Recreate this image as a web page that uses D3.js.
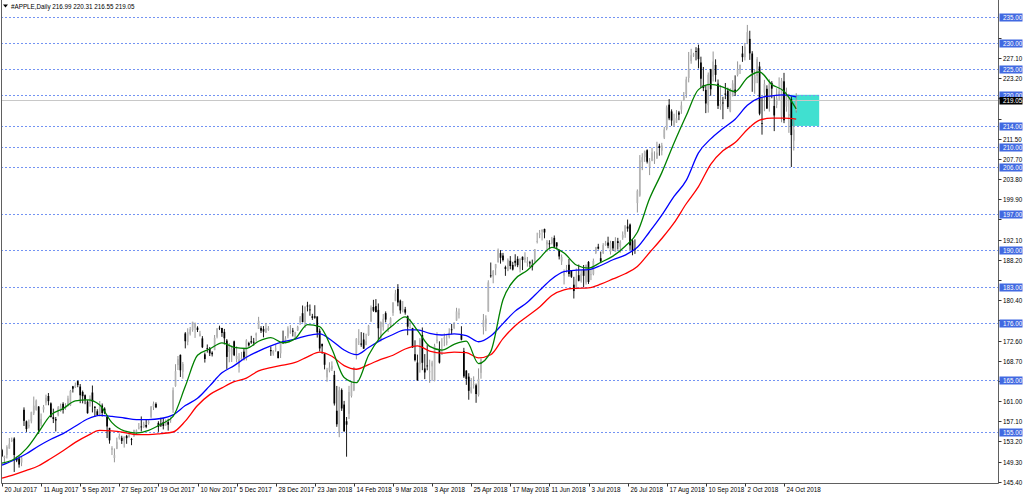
<!DOCTYPE html>
<html><head><meta charset="utf-8">
<script src="https://cdn.jsdelivr.net/npm/d3@7"></script>
<style>body{margin:0;background:#fff}svg{display:block}text{font-family:"Liberation Sans",Arial,sans-serif}</style>
</head><body><svg id="c" width="1024" height="496"></svg>
<script>
// ---- DATA (daily bars, 20 Jul 2017 .. 31 Oct 2018) ----
const open=[
151.50,149.99,150.58,151.80,153.35,153.75,149.89,149.90,
149.10,159.28,157.05,156.07,157.06,158.60,159.26,159.90,156.60,159.32,160.66,161.94,160.52,157.86,157.50,158.23,159.07,160.43,159.65,160.14,160.10,163.80,163.64,
164.80,163.75,162.71,162.09,160.86,160.50,162.61,159.87,158.99,158.47,160.11,159.51,157.90,155.80,151.54,149.99,151.78,153.80,153.89,153.21,
154.26,154.01,153.63,154.18,154.97,155.81,156.06,155.97,156.35,156.73,157.90,159.78,160.42,156.75,156.61,156.89,156.29,156.91,157.23,159.29,163.89,167.90,
169.87,166.60,174.00,172.37,173.91,174.66,175.11,175.11,173.50,173.04,169.97,171.18,171.04,170.29,170.78,173.36,175.10,175.05,174.30,172.63,170.43,
169.95,172.48,169.06,167.50,169.03,170.49,169.20,172.15,172.50,172.40,173.63,174.88,175.03,174.87,174.17,174.68,170.80,170.10,171.00,170.52,
170.16,172.53,172.54,173.44,174.35,174.55,173.16,174.59,176.18,177.90,176.15,179.37,178.61,177.30,177.30,177.25,174.51,172.00,170.16,165.53,166.87,
167.17,166.00,159.10,154.83,163.09,160.29,157.07,158.50,161.95,163.04,169.79,172.36,172.05,172.83,171.80,173.67,176.35,179.10,179.26,
178.54,172.80,175.21,177.91,174.94,175.48,177.96,180.29,182.59,180.32,178.50,178.65,177.32,175.24,175.04,170.00,168.39,168.07,173.68,167.25,167.81,
166.64,167.64,164.88,172.58,170.97,169.88,173.00,172.23,173.41,174.78,175.03,176.49,177.81,173.76,170.60,166.83,165.67,162.62,164.12,164.00,162.13,
166.41,175.23,175.88,178.25,185.18,184.99,186.55,187.74,189.49,189.01,186.78,186.07,188.00,187.19,188.00,188.38,186.35,188.77,188.23,187.60,187.72,187.22,
187.99,191.64,193.07,193.63,194.14,191.17,191.35,191.39,192.42,191.55,190.03,187.88,185.14,186.35,187.25,186.12,183.40,182.99,185.23,184.10,186.29,
183.82,187.79,185.26,185.42,189.50,190.71,188.50,189.53,191.08,191.52,189.75,191.78,189.69,191.78,190.68,192.45,193.06,194.61,194.99,191.90,190.30,
199.13,200.58,207.03,208.00,209.32,206.05,207.28,207.36,207.70,210.16,209.22,211.75,213.44,218.10,216.80,214.10,214.65,216.60,217.15,219.01,220.15,223.25,226.51,
227.63,228.41,228.99,226.23,221.85,220.95,218.01,224.94,223.52,225.75,222.15,217.79,218.50,220.24,220.78,216.82,219.75,221.00,223.82,224.79,
227.95,227.25,230.05,230.78,227.96,222.21,223.64,225.46,214.52,220.42,221.16,218.93,222.30,217.86,218.06,219.79,215.83,222.60,217.71,215.90,219.19,211.15,216.99];
const high=[
151.74,150.44,152.44,153.84,153.93,153.99,150.23,150.33,
150.22,159.75,157.21,157.40,158.92,161.83,161.27,160.00,158.57,160.21,162.20,162.51,160.71,159.50,157.89,160.00,160.47,160.74,160.56,162.00,163.12,163.89,164.52,
164.94,164.25,162.99,162.24,161.15,162.05,163.96,159.96,159.40,160.97,160.50,159.77,158.26,155.80,152.27,151.83,153.92,154.72,154.28,154.13,
154.45,155.09,153.86,155.44,155.49,156.73,158.00,156.98,157.37,157.28,160.00,160.87,160.71,157.08,157.75,157.69,157.42,157.55,157.83,163.60,168.07,169.65,
169.94,168.50,174.26,174.99,175.25,176.24,176.10,175.38,174.50,173.48,170.32,171.87,171.39,170.56,173.70,175.00,175.50,175.08,174.87,172.92,172.14,
171.67,172.62,171.52,170.20,170.44,171.00,172.89,172.39,173.54,173.13,174.17,177.20,175.39,175.42,176.02,175.42,171.47,170.78,171.85,170.59,
172.30,174.55,173.47,175.37,175.61,175.06,174.30,175.49,177.36,179.39,179.25,180.10,179.58,177.78,179.44,177.30,174.95,172.00,170.16,167.37,168.44,
168.62,166.80,163.88,163.72,163.40,161.00,157.89,163.89,164.75,167.54,173.09,174.82,174.26,174.12,173.95,175.65,179.39,180.48,180.62,
179.78,176.30,177.74,178.25,175.85,177.12,180.00,182.39,183.50,180.52,180.24,179.12,177.47,176.80,175.09,172.68,169.92,173.10,175.15,170.02,171.75,
168.94,168.75,172.01,174.23,172.48,173.09,174.00,173.92,175.00,175.84,176.19,178.94,178.82,175.39,171.22,166.92,166.33,165.42,165.73,164.33,167.26,
169.20,177.75,177.50,184.25,187.67,186.22,187.40,190.37,190.06,189.53,187.07,188.46,188.91,187.81,189.27,188.88,188.50,188.84,189.65,188.75,188.00,188.23,
190.26,193.42,193.94,194.08,194.20,192.00,191.97,192.61,192.88,191.57,190.16,189.22,186.33,187.20,188.35,186.15,184.92,186.53,187.28,186.21,187.19,
187.30,187.95,186.41,188.43,190.68,191.28,189.78,191.41,191.84,192.65,191.87,191.80,192.55,192.43,191.96,193.66,194.85,195.96,195.19,192.20,192.14,
201.76,208.38,208.74,209.25,209.50,207.81,209.78,209.10,210.95,210.56,210.74,213.81,217.95,219.18,217.19,216.36,217.05,216.90,218.74,220.54,223.49,228.26,228.87,
228.10,229.18,229.67,227.35,225.37,221.85,224.30,225.00,228.35,226.84,222.95,221.85,219.62,222.28,221.36,221.26,222.82,223.75,226.44,225.84,
229.42,230.00,233.47,232.35,228.41,224.80,227.27,226.35,219.50,222.88,221.83,222.99,222.64,219.74,221.26,223.36,223.25,224.23,221.38,220.19,219.69,215.18,220.31];
const low=[
150.19,148.88,149.90,151.80,153.06,147.30,149.19,148.13,
148.41,156.16,155.02,155.69,156.67,158.27,159.11,154.63,156.07,158.75,160.14,160.15,157.84,156.72,155.11,158.02,158.88,158.55,159.27,159.93,160.00,162.61,163.48,
163.63,160.56,160.52,160.36,158.53,159.89,158.77,157.91,158.09,158.00,157.99,158.44,153.83,152.75,150.56,149.16,151.69,153.54,152.70,152.00,
152.72,153.91,152.46,154.05,154.56,155.49,155.10,155.75,155.73,156.41,157.65,159.23,159.60,155.02,155.96,155.50,156.20,155.27,156.78,158.70,163.72,166.94,
165.61,165.28,171.12,171.72,173.60,174.33,173.14,174.27,173.40,171.18,168.38,170.30,169.64,169.56,170.78,173.05,174.65,173.34,171.86,167.16,168.44,
168.50,169.63,168.40,166.46,168.91,168.82,168.79,171.46,172.00,171.65,172.46,174.86,174.09,173.25,174.10,174.50,169.68,169.71,170.48,169.22,
169.26,171.96,172.08,173.05,173.93,173.41,173.00,174.49,175.65,176.14,175.07,178.25,177.41,176.60,176.82,173.20,170.53,170.06,167.07,164.70,166.50,
166.76,160.10,156.00,154.00,159.07,155.03,150.24,157.51,161.65,162.88,169.00,171.77,171.42,171.01,171.71,173.54,176.21,178.16,178.05,
172.66,172.45,174.52,176.13,174.27,175.07,177.39,180.21,179.24,177.81,178.07,177.62,173.66,174.94,171.26,168.60,164.94,166.44,166.92,165.19,166.90,
164.47,164.88,164.77,172.08,168.20,169.85,171.53,171.70,173.04,173.85,174.83,176.41,176.88,172.66,165.43,164.09,161.22,162.41,163.37,160.63,161.84,
165.27,173.80,174.44,178.17,184.75,183.67,185.22,187.65,187.45,187.86,185.10,186.00,186.36,186.13,186.91,186.78,185.76,186.21,187.65,186.87,186.78,186.14,
187.75,191.35,192.36,191.92,192.34,189.77,190.21,191.15,190.44,190.22,188.26,187.20,183.45,185.73,184.94,184.70,180.73,182.54,184.03,183.80,182.91,
183.42,183.54,184.28,185.20,189.30,190.18,187.61,189.31,190.90,190.42,189.20,189.93,189.69,190.17,189.56,192.05,192.43,193.61,190.10,189.07,189.34,
197.31,200.35,205.48,207.07,206.76,204.52,207.20,206.67,207.70,208.26,208.33,211.47,213.16,215.11,214.03,213.84,214.60,215.11,216.33,218.92,219.41,222.40,226.00,
227.30,226.63,225.10,221.30,220.71,216.47,216.56,219.84,222.57,222.52,217.27,217.12,215.30,219.15,217.29,216.63,219.70,219.76,223.54,224.02,
226.35,226.63,229.78,226.73,220.58,220.20,222.25,216.05,212.32,216.84,217.27,216.76,219.34,213.00,217.43,218.94,214.70,214.54,216.75,212.67,206.09,209.27,216.55];
const close=[
150.34,150.27,152.09,152.74,153.46,150.56,149.50,148.73,
150.05,157.14,155.57,156.39,158.81,160.08,161.06,155.32,157.48,159.85,161.60,160.95,157.86,157.50,157.21,159.78,159.98,159.27,159.86,161.47,162.91,163.35,164.00,
164.05,162.08,161.91,161.26,158.63,161.50,160.86,159.65,158.28,159.88,158.67,158.73,156.07,153.39,151.89,150.55,153.14,154.23,153.28,154.12,
153.81,154.48,153.48,155.39,155.30,155.84,155.90,156.55,156.00,156.99,159.88,160.47,159.76,155.98,156.25,156.17,157.10,156.41,157.41,163.05,166.72,169.04,
166.89,168.11,172.50,174.25,174.81,176.24,175.88,174.67,173.97,171.34,169.08,171.10,170.15,169.98,173.14,174.96,174.97,174.09,173.07,169.48,171.85,
171.05,169.80,169.64,169.01,169.32,169.37,172.67,171.70,172.27,172.22,173.97,176.42,174.54,174.35,175.01,175.01,170.57,170.60,171.08,169.23,
172.26,172.23,173.03,175.00,174.35,174.33,174.29,175.28,177.09,176.19,179.10,179.26,178.46,177.00,177.04,174.22,171.11,171.51,167.96,166.97,167.43,
167.78,160.50,156.49,163.03,159.54,155.15,156.41,162.71,164.34,167.37,172.99,172.43,171.85,171.07,172.50,175.50,178.97,178.39,178.12,
175.00,176.21,176.82,176.67,175.03,176.94,179.98,181.72,179.97,178.44,178.65,178.02,175.30,175.24,171.27,168.85,164.94,172.77,168.34,166.48,167.78,
166.68,168.39,171.61,172.80,168.38,170.05,173.25,172.44,174.14,174.73,175.82,178.24,177.84,172.80,165.72,165.24,162.94,163.65,164.22,162.32,165.26,
169.10,176.57,176.89,183.83,185.16,186.05,187.36,190.04,188.59,188.15,186.44,188.18,186.99,186.31,187.63,187.16,188.36,188.15,188.58,187.90,187.50,186.87,
190.24,191.83,193.31,193.98,193.46,191.70,191.23,192.28,190.70,190.80,188.84,188.74,185.69,186.50,185.46,184.92,182.17,184.43,184.16,185.50,185.11,
187.18,183.92,185.40,187.97,190.58,190.35,187.88,191.03,191.33,190.91,191.45,190.40,191.88,191.44,191.61,193.00,194.82,194.21,190.98,189.91,190.29,
201.50,207.39,207.99,209.07,207.11,207.25,208.88,207.53,208.87,209.75,210.24,213.32,217.58,215.46,215.04,215.05,215.49,216.16,217.94,219.70,222.98,225.03,227.63,
227.75,228.36,226.87,223.10,221.30,218.33,223.85,221.07,226.41,223.84,217.88,218.24,218.37,220.03,217.66,220.79,222.19,220.42,224.95,225.74,
227.26,229.28,232.07,227.99,224.29,223.77,226.87,216.36,214.45,222.11,217.36,222.15,221.19,216.02,219.31,220.65,222.73,215.09,219.80,216.30,212.24,213.30,219.05];

const maIndex=[0,5,10,15,20,25,30,35,40,45,50,55,60,65,70,75,80,85,90,95,100,105,110,115,120,125,130,135,140,145,150,155,160,165,170,175,180,185,190,195,200,205,210,215,220,225,230,235,240,245,250,255,260,265,270,275,280,285,290,295,300,305,310,315,320,325];
const maGreen=[149.0,149.8,151.8,155.0,158.3,159.5,161.0,161.2,160.2,156.8,155.2,154.8,155.3,156.5,158.0,163.8,169.8,171.0,172.2,171.3,171.1,172.5,173.2,172.2,173.0,175.7,175.3,171.0,165.5,164.5,169.8,173.4,175.6,177.2,174.6,171.5,170.8,171.9,172.5,168.2,170.5,180.5,184.5,186.2,188.5,190.6,189.5,187.2,186.6,187.7,188.9,190.8,193.5,200.0,205.0,210.7,216.0,221.0,222.0,221.5,220.6,223.3,224.4,222.0,220.7,217.3];
const maBlue=[148.6,149.6,150.8,152.3,153.6,154.7,156.1,157.5,158.2,158.0,157.7,157.4,157.4,157.6,158.3,160.1,161.5,163.9,166.4,167.8,169.4,170.6,171.6,172.4,172.9,173.6,173.9,172.6,170.8,169.9,171.3,172.7,173.8,174.7,174.7,174.0,173.7,173.9,173.6,172.4,173.5,175.9,178.3,180.0,182.3,184.5,185.9,186.2,186.3,187.1,188.2,189.1,190.6,193.6,196.8,200.4,203.5,208.8,211.5,213.5,215.3,218.0,219.4,219.8,220.0,219.6];
const maRed=[146.1,146.8,147.6,148.5,149.9,151.4,153.0,154.3,155.3,155.2,154.9,154.5,154.5,154.7,155.0,157.1,160.1,162.2,163.5,164.7,165.4,166.8,167.4,167.9,168.4,169.5,170.4,169.6,167.8,167.1,168.0,169.0,169.8,171.0,171.6,170.6,170.2,170.4,170.3,169.3,169.9,173.0,175.5,177.3,179.1,181.3,182.4,182.7,182.8,183.5,184.5,185.5,186.9,189.6,192.3,195.3,199.0,202.3,206.6,209.2,210.8,213.3,215.1,215.5,215.5,215.3];

const levels=[235,230,225,220,214,210,206,197,190,183,176,165,155];
const priceTicks=["231.00","227.10","223.20","219.30","215.40","211.50","207.70","203.80","199.90","196.00","192.10","188.20","184.30","180.40","176.50","172.60","168.70","164.80","161.00","157.10","153.20","149.30","145.40"];
const dateTicks=["20 Jul 2017","11 Aug 2017","5 Sep 2017","27 Sep 2017","19 Oct 2017","10 Nov 2017","5 Dec 2017","28 Dec 2017","23 Jan 2018","14 Feb 2018","9 Mar 2018","3 Apr 2018","25 Apr 2018","17 May 2018","11 Jun 2018","3 Jul 2018","26 Jul 2018","17 Aug 2018","10 Sep 2018","2 Oct 2018","24 Oct 2018"];
const dateTickIndex=[0,16,32,48,64,80,96,112,128,144,160,176,192,208,224,240,256,272,288,304,320];
const symbol="#APPLE,Daily";
const lastPrice=219.05;
const zoneBars=[322.6,334.4];
const zonePrices=[220,214];

// ---- DRAW ----
const svg=d3.select("#c");
const x=d3.scaleLinear().domain([0,320]).range([2,784]);
const y=d3.scaleLinear().domain([145.4,235]).range([481.8,17]);
const axisX=998.5, axisY=483.5;

svg.append("defs").append("clipPath").attr("id","clip").append("rect")
  .attr("x",1).attr("y",0).attr("width",axisX-1).attr("height",axisY);
const plot=svg.append("g").attr("clip-path","url(#clip)");

// zone rectangle
plot.append("rect").attr("x",x(zoneBars[0])).attr("width",x(zoneBars[1])-x(zoneBars[0]))
  .attr("y",y(zonePrices[0])).attr("height",y(zonePrices[1])-y(zonePrices[0]))
  .attr("fill","#40e0d0");

// level lines
plot.selectAll("line.lvl").data(levels).join("line").attr("class","lvl")
  .attr("x1",1).attr("x2",axisX).attr("y1",d=>Math.round(y(d))+0.5).attr("y2",d=>Math.round(y(d))+0.5)
  .attr("stroke","#7393f3").attr("stroke-width",1).attr("stroke-dasharray","2,2");

// last price line
plot.append("line").attr("x1",1).attr("x2",axisX)
  .attr("y1",Math.round(y(lastPrice))+0.5).attr("y2",Math.round(y(lastPrice))+0.5)
  .attr("stroke","#c8c8c8").attr("stroke-width",1);

// candles
const idx=d3.range(close.length);
const cg=plot.append("g");
cg.selectAll("line.w").data(idx).join("line").attr("class","w")
  .attr("x1",i=>x(i)).attr("x2",i=>x(i)).attr("y1",i=>y(high[i])).attr("y2",i=>y(low[i]))
  .attr("stroke",i=>close[i]>=open[i]?"#8a8a8a":"#000").attr("stroke-width",0.9);
cg.selectAll("rect.b").data(idx).join("rect").attr("class","b")
  .attr("x",i=>x(i)-0.85).attr("width",1.7)
  .attr("y",i=>y(Math.max(open[i],close[i])))
  .attr("height",i=>Math.max(0.8,Math.abs(y(open[i])-y(close[i]))))
  .attr("fill",i=>close[i]>=open[i]?"#b4b4b4":"#000");

// moving averages
const line=d3.line().x(d=>x(d[0])).y(d=>y(d[1])).curve(d3.curveMonotoneX);
[[maRed,"#ff0000"],[maBlue,"#0000ff"],[maGreen,"#008000"]].forEach(([arr,col])=>{
  plot.append("path").attr("d",line(maIndex.map((k,j)=>[k,arr[j]])))
    .attr("fill","none").attr("stroke",col).attr("stroke-width",1.3);
});

// frame
svg.append("path").attr("d",`M1.5,0V${axisY}H${axisX}V0`).attr("fill","none").attr("stroke","#606060").attr("stroke-width",1);

// price axis ticks (labels hidden behind level boxes are not drawn, as in the original)
const pt=svg.append("g");
const boxYs=levels.concat([lastPrice]).map(v=>y(v));
priceTicks.forEach(t=>{
  const yy=Math.round(y(+t))+0.5;
  pt.append("line").attr("x1",axisX).attr("x2",axisX+3).attr("y1",yy).attr("y2",yy).attr("stroke","#333");
  if(boxYs.some(b=>Math.abs(b-yy)<7)) return;
  pt.append("text").attr("x",1003).attr("y",yy).attr("dy","0.35em").attr("font-size",6.3).attr("fill","#000").text(t);
});
// level labels
levels.forEach(l=>{
  const yy=Math.round(y(l))+0.5;
  pt.append("rect").attr("x",axisX+1).attr("y",yy-4).attr("width",23).attr("height",8).attr("fill","#4169e1");
  pt.append("text").attr("x",1003).attr("y",yy).attr("dy","0.35em").attr("font-size",6.3).attr("fill","#fff").text(l.toFixed(2));
});
{
  const yy=Math.round(y(lastPrice))+0.5;
  pt.append("rect").attr("x",axisX+1).attr("y",yy-3.5).attr("width",23).attr("height",7.5).attr("fill","#000");
  pt.append("text").attr("x",1003).attr("y",yy+0.5).attr("dy","0.35em").attr("font-size",6.3).attr("fill","#fff").text(lastPrice.toFixed(2));
}

// date axis
const dt=svg.append("g");
dateTicks.forEach((t,j)=>{
  const xx=Math.round(x(dateTickIndex[j]))+0.5;
  dt.append("line").attr("x1",xx).attr("x2",xx).attr("y1",axisY).attr("y2",axisY+3).attr("stroke","#333");
  dt.append("text").attr("x",xx+2).attr("y",492).attr("font-size",6.3).attr("fill","#000").text(t);
});

// title
const lastI=close.length-1;
svg.append("path").attr("d","M3,4.5h5l-2.5,3z").attr("fill","#000");
svg.append("text").attr("x",11).attr("y",8.5).attr("font-size",6.3).attr("fill","#000")
  .text(`${symbol}  ${open[lastI].toFixed(2)} ${high[lastI].toFixed(2)} ${low[lastI].toFixed(2)} ${close[lastI].toFixed(2)}`);
</script></body></html>
